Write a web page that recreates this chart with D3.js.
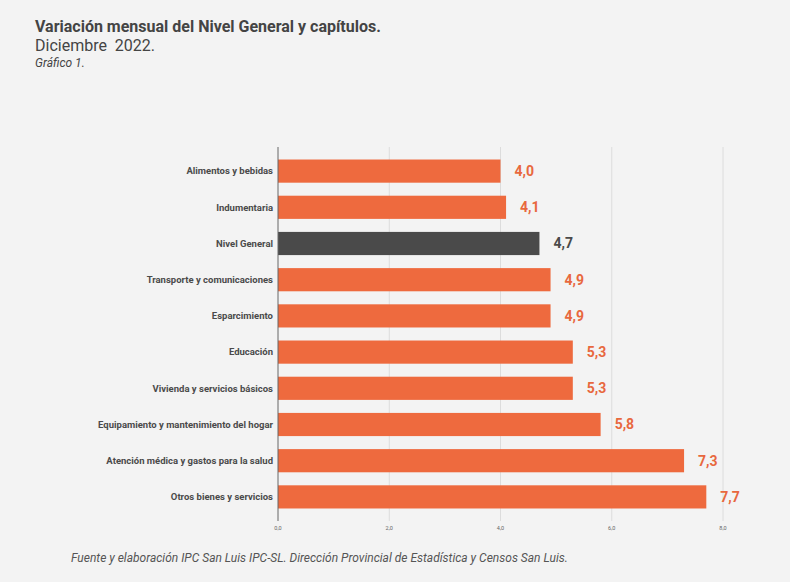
<!DOCTYPE html>
<html><head><meta charset="utf-8">
<script src="https://cdn.jsdelivr.net/npm/d3@7"></script>
<style>body{margin:0;background:#f3f3f3;}svg{display:block;font-family:Roboto,sans-serif;}</style>
</head><body><svg id="c" width="790" height="582"></svg>
<script>
const categories = ["Alimentos y bebidas","Indumentaria","Nivel General","Transporte y comunicaciones","Esparcimiento","Educación","Vivienda y servicios básicos","Equipamiento y mantenimiento del hogar","Atención médica y gastos para la salud","Otros bienes y servicios"];
const values = [4.0,4.1,4.7,4.9,4.9,5.3,5.3,5.8,7.3,7.7];
const highlight = ["Nivel General"];
const xTicks = [0,2,4,6,8];

const svg = d3.select("#c");
svg.append("rect").attr("width",790).attr("height",582).attr("fill","#f3f3f3");
const fmt = v => d3.format(".1f")(v).replace(".",",");

const x = d3.scaleLinear().domain([0,8]).range([278,723]);
const y = d3.scaleBand().domain(categories).range([153,515]).paddingInner(0.36).paddingOuter(0.18);

// gridlines
svg.append("g").selectAll("line").data(xTicks.slice(1)).join("line")
  .attr("x1",d=>x(d)).attr("x2",d=>x(d)).attr("y1",147).attr("y2",521)
  .attr("stroke","#dcdcdc").attr("stroke-width",1);

// axis labels
svg.append("g").selectAll("text").data(xTicks).join("text")
  .attr("x",d=>x(d)).attr("y",530).attr("text-anchor","middle")
  .attr("font-size",5.5).attr("fill","#666").text(fmt);

// bars
svg.append("g").selectAll("rect").data(categories).join("rect")
  .attr("x",x(0)).attr("y",d=>y(d)).attr("height",y.bandwidth())
  .attr("width",(d,i)=>x(values[i])-x(0))
  .attr("fill",d=>highlight.includes(d)?"#4a4a4a":"#ee6a3e");

// axis line
svg.append("line").attr("x1",x(0)).attr("x2",x(0)).attr("y1",147).attr("y2",521)
  .attr("stroke","#666").attr("stroke-width",1);

// category labels
svg.append("g").selectAll("text").data(categories).join("text")
  .attr("x",273).attr("y",d=>y(d)+y.bandwidth()/2).attr("dy","0.35em")
  .attr("text-anchor","end").attr("font-size",9.5).attr("font-weight","bold")
  .attr("fill","#4a4a4a").text(d=>d);

// value labels
svg.append("g").selectAll("text").data(categories).join("text")
  .attr("x",(d,i)=>x(values[i])+14).attr("y",d=>y(d)+y.bandwidth()/2).attr("dy","0.35em")
  .attr("font-size",14).attr("font-weight","bold")
  .attr("fill",d=>highlight.includes(d)?"#4a4a4a":"#e8683e")
  .text((d,i)=>fmt(values[i]));

// titles
svg.append("text").attr("x",35).attr("y",32).attr("font-size",16).attr("font-weight","bold").attr("fill","#444")
  .text("Variación mensual del Nivel General y capítulos.");
svg.append("text").attr("x",35).attr("y",51).attr("font-size",16).attr("fill","#444").attr("xml:space","preserve")
  .text("Diciembre  2022.");
svg.append("text").attr("x",35).attr("y",67).attr("font-size",12).attr("font-style","italic").attr("fill","#444")
  .text("Gráfico 1.");
svg.append("text").attr("x",71).attr("y",562).attr("font-size",12).attr("font-style","italic").attr("fill","#555")
  .text("Fuente y elaboración IPC San Luis IPC-SL. Dirección Provincial de Estadística y Censos San Luis.");
</script></body></html>
